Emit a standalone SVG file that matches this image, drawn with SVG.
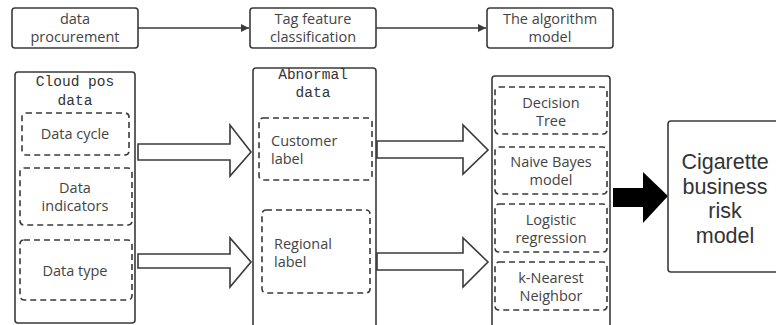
<svg xmlns="http://www.w3.org/2000/svg" width="776" height="325" viewBox="0 0 776 325">
<style>
.box{fill:#fff;stroke:#3a3a3a;stroke-width:1.6}
.dash{fill:none;stroke:#3a3a3a;stroke-width:1.6;stroke-dasharray:6 4}
.t{font-family:"Open Sans","Noto Sans",sans-serif;font-size:14.5px;fill:#444;text-anchor:middle}
.tl{font-family:"Open Sans","Noto Sans",sans-serif;font-size:14.5px;fill:#444}
.m{font-family:"Liberation Mono","DejaVu Sans Mono",monospace;font-size:14.5px;fill:#333;text-anchor:middle}
.big{font-family:"Liberation Sans","Arial",sans-serif;font-size:21.5px;fill:#333;text-anchor:middle}
.hollow{fill:#fff;stroke:#3a3a3a;stroke-width:1.6;stroke-linejoin:miter}
.line{stroke:#3a3a3a;stroke-width:1.6;fill:none}
</style>
<defs>
<marker id="ah" viewBox="0 0 10 10" refX="10" refY="5" markerWidth="8" markerHeight="8" markerUnits="userSpaceOnUse" orient="auto">
<path d="M0,0 L10,5 L0,10 z" fill="#3a3a3a"/>
</marker>
</defs>
<g id="connectors">
<line class="line" x1="138" y1="28" x2="249" y2="28" marker-end="url(#ah)"/>
<line class="line" x1="376" y1="28" x2="486" y2="28" marker-end="url(#ah)"/>
<path class="hollow" d="M138,144 L230,144 L230,125 L251,152 L230,176 L230,160 L138,160 Z"/>
<path class="hollow" d="M138,254 L230,254 L230,238 L251,262 L230,287 L230,268 L138,268 Z"/>
<path class="hollow" d="M377,141 L463,141 L463,125 L488,150 L463,174 L463,158 L377,158 Z"/>
<path class="hollow" d="M377,253 L463,253 L463,238 L488,262 L463,287 L463,270 L377,270 Z"/>
<path fill="#000" d="M613,188 L643,188 L643,172 L668,196 L643,223 L643,207 L613,207 Z"/>
</g>
<g id="data-procurement">
<rect class="box" x="12" y="8" width="126" height="40" rx="3"/>
<text class="t" x="75" y="24">data</text>
<text class="t" x="75" y="42">procurement</text>
</g>
<g id="tag-feature">
<rect class="box" x="250" y="8" width="126" height="40" rx="3"/>
<text class="t" x="313" y="24">Tag feature</text>
<text class="t" x="313" y="42">classification</text>
</g>
<g id="algorithm-model">
<rect class="box" x="487" y="8" width="126" height="40" rx="3"/>
<text class="t" x="550" y="24">The algorithm</text>
<text class="t" x="550" y="42">model</text>
</g>
<g id="cloud-pos-data">
<rect class="box" x="15" y="72" width="120" height="251" rx="3"/>
<text class="m" x="75" y="86">Cloud pos</text>
<text class="m" x="75" y="105">data</text>
</g>
<g id="data-cycle">
<rect class="dash" x="22" y="113" width="107" height="42" rx="4"/>
<text class="t" x="75" y="139">Data cycle</text>
</g>
<g id="data-indicators">
<rect class="dash" x="20" y="168" width="112" height="57" rx="4"/>
<text class="t" x="75" y="193">Data</text>
<text class="t" x="75" y="211">indicators</text>
</g>
<g id="data-type">
<rect class="dash" x="20" y="240" width="112" height="60" rx="4"/>
<text class="t" x="75" y="276">Data type</text>
</g>
<g id="abnormal-data">
<rect class="box" x="253" y="68" width="123" height="270" rx="3"/>
<text class="m" x="313" y="79">Abnormal</text>
<text class="m" x="313" y="97">data</text>
</g>
<g id="customer-label">
<rect class="dash" x="259" y="118" width="113" height="62" rx="4"/>
<text class="tl" x="271" y="146">Customer</text>
<text class="tl" x="271" y="164">label</text>
</g>
<g id="regional-label">
<rect class="dash" x="262" y="210" width="108" height="83" rx="4"/>
<text class="tl" x="274" y="249">Regional</text>
<text class="tl" x="274" y="267">label</text>
</g>
<g id="algorithms">
<rect class="box" x="492" y="76" width="118" height="262" rx="3"/>
</g>
<g id="decision-tree">
<rect class="dash" x="495" y="87" width="112" height="47" rx="4"/>
<text class="t" x="551" y="108">Decision</text>
<text class="t" x="551" y="126">Tree</text>
</g>
<g id="naive-bayes">
<rect class="dash" x="495" y="147" width="112" height="47" rx="4"/>
<text class="t" x="551" y="167">Naive Bayes</text>
<text class="t" x="551" y="185">model</text>
</g>
<g id="logistic-regression">
<rect class="dash" x="495" y="204" width="112" height="48" rx="4"/>
<text class="t" x="551" y="225">Logistic</text>
<text class="t" x="551" y="243">regression</text>
</g>
<g id="knn">
<rect class="dash" x="495" y="262" width="112" height="48" rx="4"/>
<text class="t" x="551" y="283">k-Nearest</text>
<text class="t" x="551" y="301">Neighbor</text>
</g>
<g id="cigarette-risk-model">
<rect class="box" x="668" y="121" width="120" height="151" rx="3"/>
<text class="big" x="725" y="169">Cigarette</text>
<text class="big" x="725" y="194">business</text>
<text class="big" x="725" y="218">risk</text>
<text class="big" x="725" y="243">model</text>
</g>
</svg>
